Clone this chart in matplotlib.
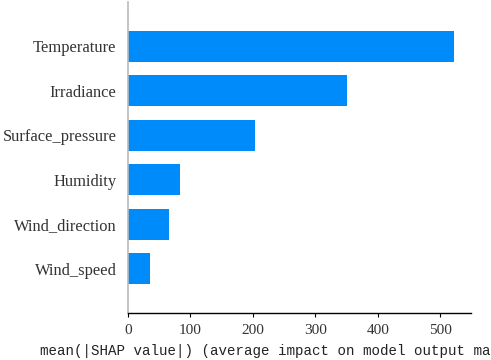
import matplotlib
matplotlib.use("Agg")
import matplotlib.pyplot as plt
import numpy as np

features = ["Wind_speed", "Wind_direction", "Humidity", "Surface_pressure", "Irradiance", "Temperature"]
values = [36, 66, 84, 203, 350, 522]
xticks = [0, 100, 200, 300, 400, 500]
xlabel = "mean(|SHAP value|) (average impact on model output magnitude)"

fig = plt.figure(figsize=(4.91, 3.60), dpi=100)
ax = fig.add_axes([127.7/491, (360-313.3)/360, (471-127.7)/491, (313.3-1.8)/360])
y = np.arange(len(features))
ax.barh(y, values, 0.7, align="center", color="#008bfb")
ax.set_ylim(-1, len(features))
ax.set_xlim(0, 549)
ax.set_yticks(y)
ax.set_yticklabels(features, fontsize=11.9, family="Liberation Serif", color="#333333")
ax.set_xticks(xticks)
ax.set_xticklabels([str(t) for t in xticks], fontsize=11, family="Liberation Serif", color="#333333")
ax.tick_params(axis="y", length=0, pad=8)
ax.tick_params(axis="x", length=3, width=0.8, pad=5)
for s in ["top", "right"]:
    ax.spines[s].set_visible(False)
ax.spines["left"].set_color("#bbbbbb")
ax.spines["left"].set_linewidth(1.2)
ax.spines["bottom"].set_linewidth(1.0)
ax.set_xlabel(xlabel, fontsize=10.2, family="Liberation Mono", color="#222222", labelpad=5)
fig.savefig("out.png", dpi=100)
